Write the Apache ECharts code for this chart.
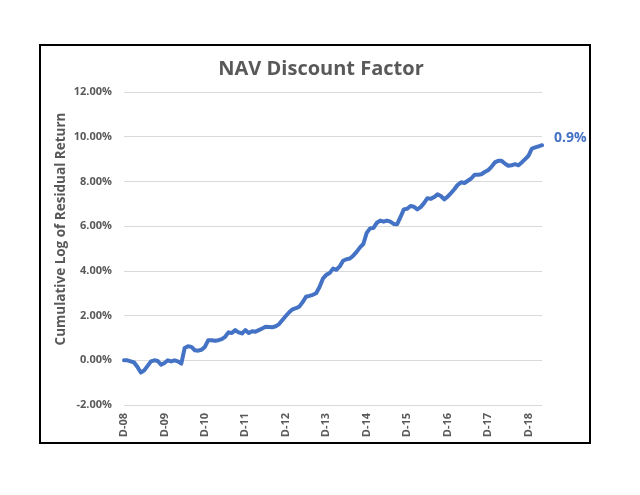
<!DOCTYPE html>
<html>
<head>
<meta charset="utf-8">
<script src="https://cdn.jsdelivr.net/npm/echarts@6/dist/echarts.min.js"></script>
<style>
html,body{margin:0;padding:0;background:#fff;}
#chart{width:640px;height:495px;}
</style>
</head>
<body>
<div id="chart"></div>
<script>
// ---- data ----
const chartTitle = 'NAV Discount Factor';
const yAxisTitle = 'Cumulative Log of Residual Return';
const endLabelText = '0.9%';
const startYear = 2008;      // first category: Dec 2008
const startMonth = 11;       // 0-based month index (Dec)
const monthNames = ['Jan','Feb','Mar','Apr','May','Jun','Jul','Aug','Sep','Oct','Nov','Dec'];
const yTicks = [-2, 0, 2, 4, 6, 8, 10, 12];
// cumulative log of residual return, in percent, monthly from Dec-08
const residualReturn = [
  0.00, 0.00, -0.05, -0.10, -0.30, -0.55, -0.45, -0.25, -0.05, 0.00, -0.03, -0.20,
  -0.12, 0.00, -0.05, 0.00, -0.05, -0.15, 0.55, 0.63, 0.60, 0.45, 0.43, 0.47,
  0.60, 0.90, 0.90, 0.87, 0.90, 0.95, 1.05, 1.25, 1.22, 1.35, 1.25, 1.20,
  1.35, 1.22, 1.30, 1.28, 1.35, 1.42, 1.50, 1.49, 1.48, 1.52, 1.62, 1.80,
  1.98, 2.15, 2.28, 2.33, 2.40, 2.60, 2.84, 2.88, 2.93, 3.00, 3.28, 3.65,
  3.82, 3.90, 4.10, 4.05, 4.20, 4.45, 4.52, 4.55, 4.68, 4.85, 5.05, 5.20,
  5.70, 5.90, 5.92, 6.15, 6.25, 6.20, 6.25, 6.20, 6.10, 6.08, 6.40, 6.75,
  6.78, 6.90, 6.87, 6.75, 6.85, 7.03, 7.25, 7.22, 7.30, 7.42, 7.35, 7.20,
  7.32, 7.48, 7.65, 7.85, 7.96, 7.93, 8.03, 8.13, 8.30, 8.30, 8.32, 8.42,
  8.50, 8.65, 8.85, 8.92, 8.92, 8.80, 8.70, 8.72, 8.77, 8.72, 8.85, 9.00,
  9.15, 9.47, 9.52, 9.57, 9.62
];
// month categories (labels)
const categories = residualReturn.map((_, k) => {
  const m = (startMonth + k) % 12;
  const y = startYear + Math.floor((startMonth + k) / 12);
  return monthNames[m] + '-' + String(y % 100).padStart(2, '0');
});

// ---- chart ----
const FONT = '"Open Sans", "Noto Sans", sans-serif';
const GREY = '#595959';
const BLUE = '#4472C4';
const chart = echarts.init(document.getElementById('chart'), null, {renderer: 'canvas'});

chart.setOption({
  animation: false,
  backgroundColor: '#fff',
  title: {
    text: chartTitle,
    left: 316, top: 54, textAlign: 'center',
    textStyle: {color: GREY, fontSize: 20, fontWeight: 'bold', fontFamily: FONT}
  },
  grid: {left: 124, right: 98, top: 92, bottom: 90, containLabel: false},
  xAxis: {
    type: 'category',
    data: categories,
    boundaryGap: false,
    axisLine: {show: false},
    axisTick: {show: false},
    splitLine: {show: false},
    axisLabel: {
      interval: 11, rotate: 90, margin: 8,
      color: GREY, fontSize: 11, fontWeight: 'bold', fontFamily: FONT,
      formatter: (s) => s.charAt(0) + '-' + s.slice(-2)
    }
  },
  yAxis: {
    type: 'value',
    min: yTicks[0], max: yTicks[yTicks.length - 1], interval: 2,
    axisLine: {show: false},
    axisTick: {show: false},
    splitLine: {lineStyle: {color: '#d9d9d9', width: 1}},
    axisLabel: {
      margin: 12, color: GREY, fontSize: 11, fontWeight: 'bold', fontFamily: FONT,
      formatter: (v) => v.toFixed(2) + '%'
    }
  },
  series: [{
    type: 'line',
    data: residualReturn,
    showSymbol: false,
    symbol: 'none',
    lineStyle: {color: BLUE, width: 4, cap: 'round', join: 'round'},
    itemStyle: {color: BLUE},
    emphasis: {disabled: true},
    endLabel: {
      show: true, distance: 12, offset: [0, -7],
      formatter: endLabelText, color: BLUE, fontSize: 14, fontWeight: 'bold', fontFamily: FONT
    }
  }],
  graphic: [
    {
      type: 'rect', silent: true,
      shape: {x: 40, y: 45, width: 550, height: 398},
      style: {fill: 'none', stroke: '#000', lineWidth: 2}
    },
    {
      type: 'text', silent: true,
      x: 61, y: 229, rotation: Math.PI / 2,
      style: {
        text: yAxisTitle, fill: GREY, fontSize: 13.5, fontWeight: 'bold', fontFamily: FONT,
        align: 'center', verticalAlign: 'middle'
      }
    }
  ]
});
</script>
</body>
</html>
